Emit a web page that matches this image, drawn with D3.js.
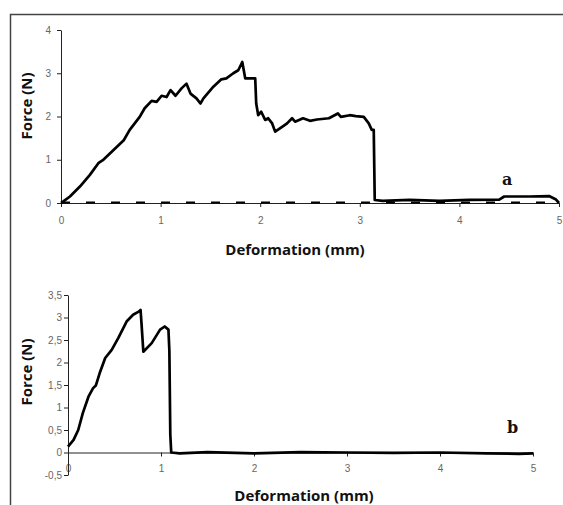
<!DOCTYPE html>
<html>
<head>
<meta charset="utf-8">
<script src="https://cdn.jsdelivr.net/npm/d3@7"></script>
<style>
  body { margin: 0; background: #fff; }
  .tick text { font-family: "Liberation Sans", Arial, sans-serif; font-size: 10px; fill: #666; }
  .title { font-family: "Open Sans", sans-serif; font-weight: bold; font-size: 15px; fill: #111; }
  .tag { font-family: "DejaVu Serif", "Liberation Serif", serif; font-weight: bold; font-size: 16px; fill: #111; }
</style>
</head>
<body>
<div class="figure"></div>
<script>
var W = 563, H = 505;

// panel a : deformation (mm) vs force (N)
var aX = [0, 0.02, 0.09, 0.19, 0.29, 0.375, 0.42, 0.525, 0.63, 0.69, 0.79, 0.84, 0.91, 0.96, 1.01, 1.06, 1.10, 1.15, 1.21, 1.26, 1.30, 1.36, 1.40, 1.43, 1.53, 1.61, 1.66, 1.73, 1.78, 1.82, 1.85, 1.95, 1.96, 1.98, 2.01, 2.05, 2.08, 2.12, 2.15, 2.22, 2.27, 2.32, 2.35, 2.43, 2.50, 2.57, 2.69, 2.78, 2.81, 2.90, 2.96, 3.04, 3.09, 3.12, 3.14, 3.15, 3.23, 3.5, 3.8, 4.1, 4.4, 4.45, 4.7, 4.9, 4.97, 5.0];
var aY = [0, 0.03, 0.15, 0.38, 0.65, 0.92, 0.99, 1.22, 1.45, 1.69, 1.99, 2.19, 2.36, 2.34, 2.48, 2.45, 2.61, 2.48, 2.65, 2.76, 2.53, 2.42, 2.30, 2.42, 2.69, 2.86, 2.88, 3.00, 3.07, 3.26, 2.88, 2.88, 2.30, 2.03, 2.11, 1.92, 1.96, 1.84, 1.65, 1.76, 1.84, 1.96, 1.88, 1.96, 1.90, 1.93, 1.96, 2.07, 1.99, 2.03, 2.01, 1.99, 1.84, 1.69, 1.69, 0.07, 0.05, 0.07, 0.05, 0.07, 0.08, 0.15, 0.15, 0.16, 0.08, 0.0];
// return trace lying on the baseline
var aBaseX = [0, 5];
var aBaseY = [0.01, 0.01];
var aTicksX = [0, 1, 2, 3, 4, 5];
var aTicksY = [0, 1, 2, 3, 4];

// panel b
var bX = [0, 0.06, 0.11, 0.16, 0.22, 0.27, 0.30, 0.34, 0.40, 0.47, 0.54, 0.63, 0.70, 0.76, 0.78, 0.79, 0.81, 0.90, 0.99, 1.04, 1.08, 1.09, 1.10, 1.11, 1.2, 1.5, 2.0, 2.5, 3.0, 3.5, 4.0, 4.5, 4.85, 5.0];
var bY = [0.13, 0.28, 0.50, 0.88, 1.24, 1.43, 1.49, 1.76, 2.10, 2.28, 2.54, 2.91, 3.06, 3.13, 3.17, 2.88, 2.24, 2.43, 2.73, 2.80, 2.73, 2.26, 0.4, 0.0, -0.02, 0.01, -0.02, 0.01, 0.0, -0.01, 0.0, -0.02, -0.03, -0.02];
var bTicksX = [0, 1, 2, 3, 4, 5];
var bTicksY = [-0.5, 0, 0.5, 1, 1.5, 2, 2.5, 3, 3.5];

var svg = d3.select(".figure").append("svg")
    .attr("width", W).attr("height", H);

// frame (top and left edges)
svg.append("path")
    .attr("d", "M10.5," + H + "V14.5H" + W)
    .attr("fill", "none").attr("stroke", "#444").attr("stroke-width", 1.5);

function fmt(d) { return String(d).replace(".", ","); }

function panel(opt) {
  var x = d3.scaleLinear().domain([0, 5]).range(opt.xr);
  var y = d3.scaleLinear().domain(opt.yd).range(opt.yr);
  var g = svg.append("g");

  var xAxis = d3.axisBottom(x).tickValues(opt.tx).tickSize(4).tickSizeOuter(0).tickFormat(fmt);
  var yAxis = d3.axisLeft(y).tickValues(opt.ty).tickSize(4).tickSizeOuter(0).tickFormat(fmt);

  g.append("g").attr("transform", "translate(0," + y(0) + ")").call(xAxis)
    .call(a => {
      a.selectAll("line, .domain").attr("stroke", "#222");
      a.selectAll("text").attr("y", opt.xLabDy);
    });
  g.append("g").attr("transform", "translate(" + x(0) + ",0)").call(yAxis)
    .call(a => {
      a.selectAll("line, .domain").attr("stroke", "#222");
      a.selectAll("text").attr("x", -opt.yLabDx);
    });

  var line = d3.line().x(d => x(d[0])).y(d => y(d[1]));

  opt.series.forEach(s => {
    g.append("path")
      .datum(d3.zip(s.xs, s.ys))
      .attr("fill", "none")
      .attr("stroke", "#000")
      .attr("stroke-width", s.w)
      .attr("stroke-linejoin", "round")
      .attr("stroke-dasharray", s.dash || null)
      .attr("d", line);
  });

  g.append("text").attr("class", "title")
    .attr("text-anchor", "middle")
    .attr("transform", "translate(" + opt.yTitle[0] + "," + opt.yTitle[1] + ") rotate(-90)")
    .text("Force (N)");
  g.append("text").attr("class", "title")
    .attr("text-anchor", "middle")
    .attr("x", opt.xTitle[0]).attr("y", opt.xTitle[1])
    .text("Deformation (mm)");
  g.append("text").attr("class", "tag")
    .attr("x", opt.tag[0]).attr("y", opt.tag[1])
    .text(opt.tagText);
}

panel({
  xr: [61, 559], yd: [0, 4], yr: [203, 30],
  tx: aTicksX, ty: aTicksY, xLabDy: 14, yLabDx: 10,
  series: [
    { xs: aBaseX, ys: aBaseY, w: 2, dash: "9,16" },
    { xs: aX, ys: aY, w: 2.7 }
  ],
  yTitle: [32, 106], xTitle: [295, 255], tag: [502, 185], tagText: "a"
});

panel({
  xr: [68, 533], yd: [-0.5, 3.5], yr: [475, 295],
  tx: bTicksX, ty: bTicksY, xLabDy: 12, yLabDx: 6,
  series: [
    { xs: bX, ys: bY, w: 2.7 }
  ],
  yTitle: [32, 372], xTitle: [304, 501], tag: [507, 433], tagText: "b"
});
</script>
</body>
</html>
